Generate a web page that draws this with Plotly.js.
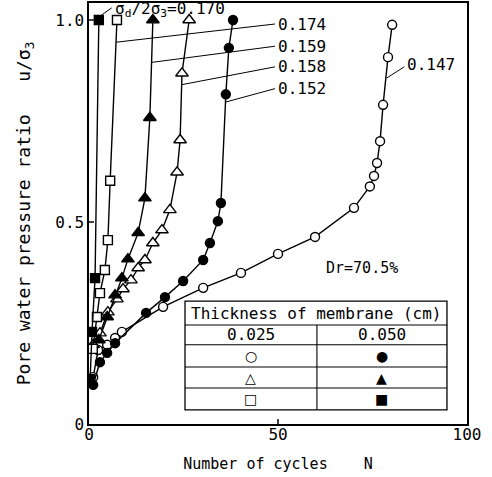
<!DOCTYPE html>
<html>
<head>
<meta charset="utf-8">
<script src="https://cdn.plot.ly/plotly-3.0.1.min.js"></script>
<style>html,body{margin:0;padding:0;background:#fff}#chart{width:492px;height:477px}</style>
</head>
<body>
<div id="chart"></div>
<script>
// ---- data ----
// open circles, membrane 0.025 cm, sigma_d/2sigma_3 = 0.147
const nOpenCircle = [1.1, 2.4, 4.8, 6.9, 8.7, 19.6, 30.2, 40.2, 50.0, 59.8, 70.1, 74.3, 75.4, 76.2, 77.0, 77.8, 79.1, 80.2];
const uOpenCircle = [0.116, 0.183, 0.196, 0.213, 0.228, 0.29, 0.337, 0.374, 0.421, 0.463, 0.535, 0.588, 0.614, 0.646, 0.70, 0.79, 0.908, 0.988];
// filled circles, membrane 0.050 cm, 0.152
const nFillCircle = [1.1, 2.9, 4.8, 6.9, 15.1, 20.1, 24.9, 30.2, 32.0, 34.1, 34.9, 36.2, 37.0, 38.1];
const uFillCircle = [0.097, 0.153, 0.176, 0.2, 0.275, 0.314, 0.354, 0.406, 0.448, 0.502, 0.547, 0.816, 0.931, 1.0];
// open triangles, membrane 0.025 cm, 0.158
const nOpenTri = [1.1, 2.9, 5.0, 7.4, 9.0, 11.1, 13.0, 14.8, 16.9, 19.3, 21.4, 23.3, 24.1, 24.6, 26.5];
const uOpenTri = [0.196, 0.225, 0.277, 0.309, 0.334, 0.356, 0.386, 0.406, 0.448, 0.48, 0.53, 0.623, 0.703, 0.868, 1.0];
// filled triangles, membrane 0.050 cm, 0.159
const nFillTri = [2.6, 4.8, 6.9, 8.7, 10.3, 13.0, 14.8, 16.1, 16.9];
const uFillTri = [0.208, 0.265, 0.319, 0.361, 0.408, 0.473, 0.559, 0.758, 1.0];
// open squares, membrane 0.025 cm, 0.174
const nOpenSq = [1.0, 2.1, 2.9, 4.2, 5.0, 5.6, 7.4];
const uOpenSq = [0.186, 0.265, 0.324, 0.381, 0.455, 0.602, 1.0];
// filled squares, membrane 0.050 cm, 0.170
const nFillSq = [0.3, 0.8, 1.6, 2.6];
const uFillSq = [0.111, 0.228, 0.361, 1.0];

const ratioLabels = ['0.174', '0.159', '0.158', '0.152', '0.147'];
const stressLabel = 'σ<sub>d</sub>/2σ<sub>3</sub>=0.170';
const densityLabel = 'Dr=70.5%';
const tableTitle = 'Thickness of membrane (cm)';
const thicknesses = ['0.025', '0.050'];
const tableSymbols = [['○', '●'], ['△', '▲'], ['□', '■']];
const xTicks = [0, 50, 100];
const yTicks = [0, 0.5, 1.0];
const yTickText = ['0', '0.5', '1.0'];

// ---- styling ----
const FONT = 'DejaVu Sans Mono';
function series(n, u, symbol, filled) {
  return {
    x: n, y: u, type: 'scatter', mode: 'lines+markers', showlegend: false,
    line: {color: '#000', width: 1.4},
    marker: {symbol: symbol, size: symbol === 'triangle-up' ? 11 : 9,
             color: filled ? '#000' : '#fff', line: {color: '#000', width: 1.4}}
  };
}
const data = [
  series(nOpenCircle, uOpenCircle, 'circle', false),
  series(nFillCircle, uFillCircle, 'circle', true),
  series(nOpenTri, uOpenTri, 'triangle-up', false),
  series(nFillTri, uFillTri, 'triangle-up', true),
  series(nOpenSq, uOpenSq, 'square', false),
  series(nFillSq, uFillSq, 'square', true)
];

// leader lines: [from x, from y, to x, to y]
const leaders = [
  [7.2, 0.945, 49.2, 0.99],
  [16.6, 0.895, 49.2, 0.935],
  [24.6, 0.84, 49.2, 0.884],
  [36.2, 0.797, 49.2, 0.83],
  [78.7, 0.856, 83.4, 0.884],
  [3.3, 1.012, 6.0, 1.03]
];
const labelPos = [[49.6, 0.99], [49.6, 0.935], [49.6, 0.884], [49.6, 0.83], [83.6, 0.891]];

const shapes = leaders.map(l => ({type: 'line', xref: 'x', yref: 'y', x0: l[0], y0: l[1], x1: l[2], y1: l[3], line: {color: '#000', width: 1}}));
// table frame
const tx0 = 25.4, tx1 = 94.7, tmid = 60.3;
const rowLines = [0.304, 0.245, 0.196, 0.141, 0.089, 0.035];
shapes.push({type: 'rect', xref: 'x', yref: 'y', x0: tx0, x1: tx1, y0: rowLines[5], y1: rowLines[0], line: {color: '#000', width: 1.3}});
for (let i = 1; i < 5; i++) shapes.push({type: 'line', xref: 'x', yref: 'y', x0: tx0, x1: tx1, y0: rowLines[i], y1: rowLines[i], line: {color: '#000', width: 1.1}});
shapes.push({type: 'line', xref: 'x', yref: 'y', x0: tmid, x1: tmid, y0: rowLines[5], y1: rowLines[1], line: {color: '#000', width: 1.1}});

const ann = [];
ratioLabels.forEach((t, i) => ann.push({x: labelPos[i][0], y: labelPos[i][1], text: t, xanchor: 'left', yanchor: 'middle', showarrow: false, font: {family: FONT, size: 16, color: '#000'}}));
ann.push({x: 6.3, y: 1.027, text: stressLabel, xanchor: 'left', yanchor: 'middle', showarrow: false, font: {family: FONT, size: 16, color: '#000'}});
ann.push({x: 72.2, y: 0.386, text: densityLabel, xanchor: 'center', yanchor: 'middle', showarrow: false, font: {family: FONT, size: 15, color: '#000'}});
ann.push({x: (tx0 + tx1) / 2, y: (rowLines[0] + rowLines[1]) / 2, text: tableTitle, xanchor: 'center', yanchor: 'middle', showarrow: false, font: {family: FONT, size: 16, color: '#000'}});
const colC = [(tx0 + tmid) / 2, (tmid + tx1) / 2];
thicknesses.forEach((t, j) => ann.push({x: colC[j], y: (rowLines[1] + rowLines[2]) / 2, text: t, xanchor: 'center', yanchor: 'middle', showarrow: false, font: {family: FONT, size: 16, color: '#000'}}));
tableSymbols.forEach((row, i) => row.forEach((s, j) => ann.push({x: colC[j], y: (rowLines[i + 2] + rowLines[i + 3]) / 2, text: s, xanchor: 'center', yanchor: 'middle', showarrow: false, font: {family: 'DejaVu Sans', size: 14, color: '#000'}})));

const layout = {
  width: 492, height: 477,
  margin: {l: 89, r: 25, t: 3, b: 53},
  paper_bgcolor: '#fff', plot_bgcolor: '#fff',
  font: {family: FONT, size: 15, color: '#000'},
  xaxis: {range: [0, 100], tickvals: xTicks, ticks: 'inside', ticklen: 5, tickwidth: 1.3,
          showline: true, mirror: true, linecolor: '#000', linewidth: 1.6, showgrid: false, zeroline: false,
          tickfont: {family: FONT, size: 16}, ticklabelstandoff: -5,
          title: {text: 'Number of cycles    N', font: {family: FONT, size: 15}, standoff: 16}},
  yaxis: {range: [0, 1.042], tickvals: yTicks, ticktext: yTickText, ticks: 'inside', ticklen: 5, tickwidth: 1.3,
          showline: true, mirror: true, linecolor: '#000', linewidth: 1.6, showgrid: false, zeroline: false,
          tickfont: {family: FONT, size: 16},
          title: {text: 'Pore water pressure ratio   u/σ<sub>3</sub>', font: {family: FONT, size: 18}, standoff: 20}},
  shapes: shapes,
  annotations: ann
};
Plotly.newPlot('chart', data, layout, {staticPlot: true, displayModeBar: false});
</script>
</body>
</html>
